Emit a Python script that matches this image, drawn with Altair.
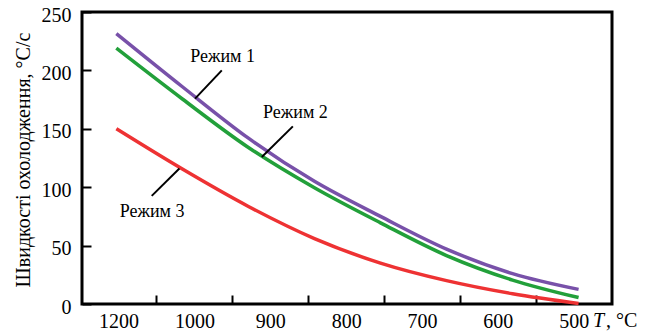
import altair as alt
import pandas as pd

# ---- data ----
temps = [1200, 1100, 1000, 900, 800, 700, 600, 500]
mode1 = [231.5, 186.0, 142.0, 105.0, 75.0, 47.0, 26.0, 12.5]
mode2 = [219.0, 175.5, 134.0, 99.5, 69.5, 41.5, 20.5, 5.5]
mode3 = [150.0, 115.5, 83.5, 56.0, 35.0, 20.0, 8.8, 0.5]
series = ["Режим 1", "Режим 2", "Режим 3"]
colors = ["#7851A9", "#22A03A", "#EE3233"]

# axis layout (the printed tick labels sit between the tick marks)
tick_vals = [1139.2, 1024.4, 909.5, 794.7, 679.8, 564.9]
label_vals = [1196.6, 1081.8, 966.9, 852.0, 737.2, 622.3, 507.5]
label_txt = ["1200", "1000", "900", "800", "700", "600", "500"]
y_ticks = [0, 50, 100, 150, 200, 250]

# annotations (label anchor and leader line in data coordinates)
ann_text = ["Режим 1", "Режим 2", "Режим 3"]
ann_tx = [1039.1, 928.8, 1145.9]
ann_ty = [211.1, 163.5, 78.9]
lead_x1 = [1040.3, 932.7, 1146.4]
lead_y1 = [200.0, 152.1, 92.6]
lead_x2 = [1080.8, 979.7, 1104.5]
lead_y2 = [175.8, 125.9, 116.0]

FONT = "Liberation Serif"

rows = []
for name, vals in zip(series, [mode1, mode2, mode3]):
    for t, v in zip(temps, vals):
        rows.append({"T": t, "v": v, "s": name})
df = pd.DataFrame(rows)

expr = "''"
for lv, lt in reversed(list(zip(label_vals, label_txt))):
    expr = f"datum.value == {lv} ? '{lt}' : ({expr})"

xscale = alt.Scale(domain=[449.4, 1252], reverse=True, nice=False, zero=False)
yscale = alt.Scale(domain=[0, 250], nice=False)

xaxis = alt.Axis(
    values=sorted(tick_vals + label_vals),
    labelExpr=expr,
    tickOpacity={"condition": {"test": f"indexof({label_vals}, datum.value) >= 0", "value": 0}, "value": 1},
    tickSize=9, offset=-9, tickWidth=2, tickColor="black",
    domain=False, grid=False, labelPadding=7,
    labelFont=FONT, labelFontSize=20, labelColor="black",
    labelOverlap=False, labelFlush=False, title=None,
)
yaxis = alt.Axis(
    values=y_ticks,
    tickSize=9, offset=-9, tickWidth=2, tickColor="black",
    domain=False, grid=False, labelPadding=11, labelOffset=3,
    labelFont=FONT, labelFontSize=20, labelColor="black",
    labelOverlap=False, labelFlush=False,
    title="Швидкості охолодження, °С/с",
    titleFont=FONT, titleFontSize=20, titleFontWeight="normal", titleColor="black",
    titleAngle=270, titleAlign="center", titleBaseline="alphabetic",
    titleX=-61.5, titleY=147.5,
)

lines = alt.Chart(df).mark_line(strokeWidth=3.5, interpolate="monotone").encode(
    x=alt.X("T:Q", scale=xscale, axis=xaxis),
    y=alt.Y("v:Q", scale=yscale, axis=yaxis),
    color=alt.Color("s:N", scale=alt.Scale(domain=series, range=colors), legend=None),
)

ann = pd.DataFrame({"text": ann_text, "tx": ann_tx, "ty": ann_ty,
                    "x1": lead_x1, "y1": lead_y1, "x2": lead_x2, "y2": lead_y2})

leaders = alt.Chart(ann).mark_rule(color="black", strokeWidth=2).encode(
    x=alt.X("x1:Q", scale=xscale), y=alt.Y("y1:Q", scale=yscale),
    x2="x2:Q", y2="y2:Q",
)
texts = alt.Chart(ann).mark_text(font=FONT, fontSize=18, color="black",
                                 align="center", baseline="middle").encode(
    x=alt.X("tx:Q", scale=xscale), y=alt.Y("ty:Q", scale=yscale), text="text:N",
)

unit_T = alt.Chart(pd.DataFrame({"t": ["T"]})).mark_text(
    font=FONT, fontSize=20, fontStyle="italic", color="black", align="left", baseline="alphabetic"
).encode(x=alt.value(511), y=alt.value(315), text="t:N")
unit_C = alt.Chart(pd.DataFrame({"t": [", °C"]})).mark_text(
    font=FONT, fontSize=20, color="black", align="left", baseline="alphabetic"
).encode(x=alt.value(524), y=alt.value(315), text="t:N")

chart = alt.layer(lines, leaders, texts, unit_T, unit_C).properties(
    width=530, height=292,
    padding={"left": 74, "top": 4, "right": 36, "bottom": 27},
    autosize=alt.AutoSizeParams(type="none"),
).configure(background="white", font=FONT).configure_view(stroke="black", strokeWidth=3)

chart.save("out.html", embed_options={"renderer": "svg", "actions": False})
